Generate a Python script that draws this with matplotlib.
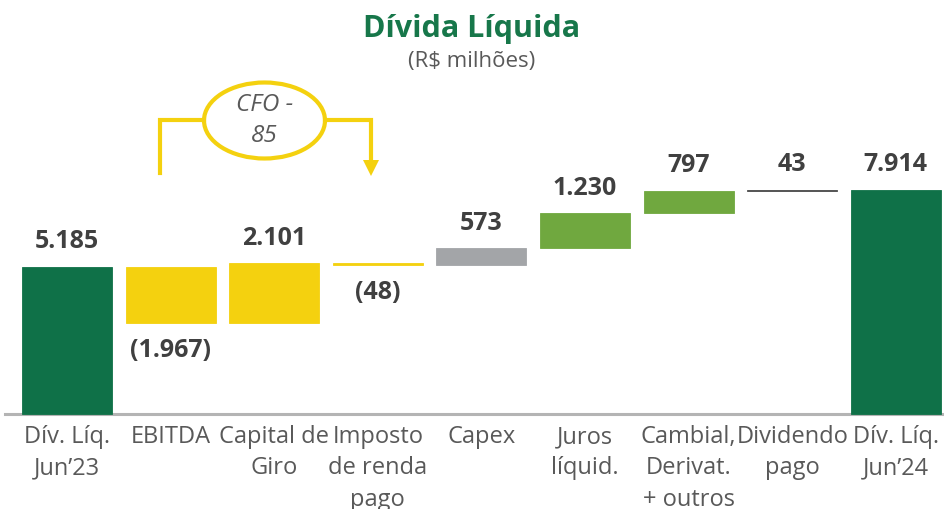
import matplotlib

matplotlib.use("Agg")
import matplotlib.pyplot as plt
from matplotlib.patches import Ellipse, Polygon

plt.rcParams["font.family"] = ["Open Sans", "DejaVu Sans"]

# Net debt bridge, R$ millions
categories = [
    "Dív. Líq.\nJun’23",
    "EBITDA",
    "Capital de\nGiro",
    "Imposto\nde renda\npago",
    "Capex",
    "Juros\nlíquid.",
    "Cambial,\nDerivat.\n+ outros",
    "Dividendo\npago",
    "Dív. Líq.\nJun’24",
]
values = [5185, -1967, 2101, -48, 573, 1230, 797, 43, 7914]
is_total = [True, False, False, False, False, False, False, False, True]
cfo_note = "CFO -\n85"

DARK_GREEN = "#0f7148"
YELLOW = "#f4d10f"
GREY = "#a3a5a8"
LIGHT_GREEN = "#70a83f"
LINE_GREY = "#4a4a4a"
colors = [DARK_GREEN, YELLOW, YELLOW, YELLOW, GREY, LIGHT_GREEN, LIGHT_GREEN, LINE_GREY, DARK_GREEN]

W, H = 944, 509


def fpx(x, y):
    """Pixel position (from top-left) to figure fraction."""
    return x / W, 1 - y / H


def fmt(v):
    s = f"{abs(v):,}".replace(",", ".")
    return f"({s})" if v < 0 else s


fig = plt.figure(figsize=(W / 100, H / 100), dpi=100)
ax = fig.add_axes([0, 0, 1, 1])
ax.axis("off")

step_px = 103.6
units_per_px = 35.27
ax.set_xlim(-67 / step_px, (W - 67) / step_px)
ax.set_ylim(-95 * units_per_px, (H - 95) * units_per_px)

# running level for the floating bars
bottoms, heights = [], []
level = 0
for v, tot in zip(values, is_total):
    if tot:
        bottoms.append(0)
        heights.append(v)
        level = v
    else:
        bottoms.append(level if v > 0 else level + v)
        heights.append(abs(v))
        level += v

xs = list(range(len(values)))
ax.bar(xs, heights, bottom=bottoms, width=0.87, color=colors,
       edgecolor=colors, linewidth=0.6, zorder=3)

# baseline
ax.axhline(0, xmin=5 / W, xmax=1, color="#b4b4b4", linewidth=2.2, zorder=2)

for x, v, b, h, tot in zip(xs, values, bottoms, heights, is_total):
    if v >= 0:
        ax.annotate(fmt(v), (x, b + h), xytext=(0, 18), textcoords="offset points",
                    ha="center", va="center", fontsize=18, fontweight="bold",
                    color="#404040")
    else:
        ax.annotate(fmt(v), (x, b), xytext=(0, -20), textcoords="offset points",
                    ha="center", va="center", fontsize=18, fontweight="bold",
                    color="#404040")

for x, lab in zip(xs, categories):
    ax.annotate(lab, (x, 0), xytext=(0, -8), textcoords="offset points",
                ha="center", va="top", fontsize=17, color="#595959",
                linespacing=1.4)

# title
fig.text(*fpx(472, 29), "Dívida Líquida", ha="center", va="center",
         fontsize=22, fontweight="bold", color="#17774a")
fig.text(*fpx(472, 61), "(R$ milhões)", ha="center", va="center",
         fontsize=16, color="#595959")

# CFO bracket over the operating items
lw = 3.0
fig.add_artist(plt.Line2D(*zip(fpx(160, 173), fpx(160, 120), fpx(204, 120)),
                          transform=fig.transFigure, color=YELLOW, lw=lw,
                          solid_joinstyle="miter"))
fig.add_artist(plt.Line2D(*zip(fpx(325, 120), fpx(371, 120), fpx(371, 162)),
                          transform=fig.transFigure, color=YELLOW, lw=lw,
                          solid_joinstyle="miter"))
fig.add_artist(Polygon([fpx(363, 160), fpx(379, 160), fpx(371, 176)],
                       closed=True, transform=fig.transFigure,
                       facecolor=YELLOW, edgecolor="none"))
cx, cy = fpx(264.5, 120.5)
fig.add_artist(Ellipse((cx, cy), 121 / W, 76 / H, transform=fig.transFigure,
                       facecolor="white", edgecolor=YELLOW, lw=lw))
fig.text(cx, cy, cfo_note, ha="center", va="center", fontsize=17.5,
         style="italic", color="#595959", linespacing=1.4)

fig.savefig("out.png", dpi=100)
